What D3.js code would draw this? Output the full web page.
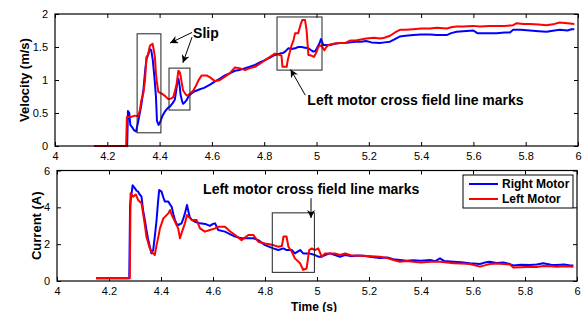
<!DOCTYPE html>
<html>
<head>
<meta charset="utf-8">
<script src="https://cdnjs.cloudflare.com/ajax/libs/d3/7.8.5/d3.min.js"></script>
<style>
  body { margin: 0; background: #fff; }
  svg { display: block; font-family: 'Liberation Sans', Arial, sans-serif; }
  .tick text { font-size: 11px; fill: #000; }
  .lbl { font-weight: bold; fill: #000; }
</style>
</head>
<body>
<div id="chart"></div>
<script>
// [time (s), velocity (m/s)]
const velRight = [[4.15,0],[4.276,0],[4.279,0.53],[4.284,0.5],[4.288,0.32],[4.296,0.28],[4.302,0.24],[4.31,0.22],[4.316,0.33],[4.322,0.45],[4.33,0.62],[4.338,0.85],[4.345,1.15],[4.35,1.32],[4.356,1.38],[4.362,1.47],[4.368,1.45],[4.374,1.3],[4.38,1.05],[4.386,0.75],[4.39,0.38],[4.396,0.32],[4.402,0.36],[4.41,0.45],[4.42,0.52],[4.43,0.57],[4.44,0.6],[4.45,0.65],[4.458,0.7],[4.463,0.82],[4.468,0.98],[4.472,1.02],[4.477,0.9],[4.48,0.78],[4.486,0.68],[4.49,0.64],[4.496,0.66],[4.504,0.7],[4.512,0.76],[4.523,0.8],[4.535,0.83],[4.554,0.86],[4.57,0.88],[4.593,0.93],[4.612,0.98],[4.631,1.02],[4.65,1.07],[4.668,1.1],[4.688,1.14],[4.705,1.15],[4.727,1.18],[4.745,1.2],[4.765,1.23],[4.785,1.27],[4.803,1.3],[4.822,1.34],[4.841,1.38],[4.86,1.4],[4.872,1.41],[4.88,1.43],[4.892,1.48],[4.905,1.47],[4.918,1.48],[4.93,1.5],[4.943,1.5],[4.956,1.49],[4.969,1.48],[4.98,1.45],[4.988,1.43],[4.996,1.44],[5.004,1.5],[5.012,1.56],[5.017,1.62],[5.022,1.57],[5.026,1.53],[5.04,1.53],[5.052,1.53],[5.07,1.55],[5.09,1.56],[5.109,1.56],[5.13,1.57],[5.15,1.58],[5.17,1.58],[5.19,1.59],[5.21,1.57],[5.243,1.56],[5.26,1.57],[5.281,1.58],[5.3,1.62],[5.319,1.66],[5.34,1.67],[5.37,1.68],[5.4,1.69],[5.434,1.69],[5.46,1.68],[5.498,1.68],[5.515,1.71],[5.536,1.73],[5.56,1.74],[5.6,1.75],[5.615,1.71],[5.625,1.71],[5.66,1.71],[5.689,1.71],[5.72,1.72],[5.74,1.72],[5.752,1.76],[5.78,1.76],[5.816,1.75],[5.85,1.74],[5.88,1.73],[5.91,1.75],[5.93,1.76],[5.96,1.75],[5.975,1.77],[5.986,1.77]];
const velLeft = [[4.15,0],[4.272,0],[4.275,0.44],[4.29,0.44],[4.305,0.46],[4.318,0.45],[4.325,0.55],[4.33,0.69],[4.338,0.8],[4.344,0.99],[4.35,1.35],[4.356,1.38],[4.363,1.52],[4.373,1.55],[4.378,1.45],[4.382,1.35],[4.386,1.1],[4.389,0.99],[4.395,0.82],[4.41,0.79],[4.42,0.76],[4.433,0.71],[4.445,0.72],[4.452,0.74],[4.458,0.82],[4.465,0.94],[4.472,1.14],[4.477,1.12],[4.48,1.07],[4.485,0.95],[4.49,0.84],[4.5,0.78],[4.506,0.76],[4.518,0.8],[4.529,0.84],[4.54,0.92],[4.548,0.99],[4.561,1.07],[4.58,1.07],[4.593,1.04],[4.612,0.98],[4.631,1.0],[4.65,1.05],[4.668,1.1],[4.688,1.19],[4.705,1.18],[4.727,1.15],[4.745,1.18],[4.765,1.2],[4.785,1.25],[4.803,1.3],[4.822,1.35],[4.841,1.4],[4.86,1.38],[4.866,1.37],[4.87,1.2],[4.886,1.2],[4.89,1.3],[4.895,1.38],[4.905,1.53],[4.912,1.6],[4.918,1.71],[4.93,1.71],[4.94,1.85],[4.946,1.91],[4.956,1.91],[4.962,1.76],[4.969,1.38],[4.98,1.37],[4.99,1.35],[5.0,1.42],[5.007,1.5],[5.02,1.53],[5.025,1.48],[5.03,1.45],[5.038,1.5],[5.045,1.53],[5.065,1.55],[5.083,1.56],[5.109,1.56],[5.13,1.6],[5.15,1.6],[5.19,1.63],[5.22,1.64],[5.243,1.63],[5.26,1.64],[5.281,1.67],[5.3,1.72],[5.319,1.76],[5.34,1.76],[5.37,1.77],[5.4,1.78],[5.434,1.78],[5.46,1.79],[5.498,1.78],[5.515,1.8],[5.536,1.81],[5.56,1.81],[5.6,1.82],[5.625,1.81],[5.66,1.82],[5.689,1.82],[5.72,1.82],[5.752,1.83],[5.766,1.86],[5.79,1.85],[5.816,1.85],[5.85,1.84],[5.88,1.83],[5.91,1.85],[5.93,1.87],[5.96,1.86],[5.986,1.85]];

// [time (s), current (A)]
const curRight = [[4.15,0.15],[4.278,0.15],[4.281,4.1],[4.286,4.67],[4.291,5.2],[4.3,5.03],[4.306,4.9],[4.312,4.85],[4.318,4.7],[4.325,4.58],[4.331,3.85],[4.338,3.3],[4.344,2.77],[4.35,2.3],[4.357,1.86],[4.363,1.5],[4.37,1.68],[4.376,2.4],[4.383,3.31],[4.388,4.2],[4.393,4.94],[4.402,4.85],[4.41,4.5],[4.415,4.31],[4.428,4.31],[4.435,4.15],[4.441,4.03],[4.448,3.6],[4.454,3.31],[4.46,3.1],[4.466,3.04],[4.479,3.13],[4.486,3.4],[4.492,3.67],[4.5,4.13],[4.505,3.8],[4.51,3.49],[4.52,3.3],[4.53,3.22],[4.55,3.13],[4.57,3.1],[4.588,2.99],[4.6,3.1],[4.608,3.13],[4.62,2.77],[4.646,2.68],[4.665,2.55],[4.685,2.41],[4.71,2.32],[4.736,2.32],[4.755,2.32],[4.774,2.22],[4.8,1.95],[4.832,1.77],[4.851,1.68],[4.871,1.77],[4.883,1.68],[4.903,1.68],[4.915,1.5],[4.935,1.68],[4.947,1.5],[4.96,1.5],[4.97,1.5],[4.992,1.41],[5.005,1.32],[5.018,1.32],[5.031,1.41],[5.05,1.5],[5.069,1.41],[5.088,1.32],[5.108,1.41],[5.13,1.35],[5.155,1.38],[5.178,1.37],[5.21,1.3],[5.242,1.25],[5.27,1.28],[5.294,1.18],[5.319,1.14],[5.345,1.1],[5.37,1.12],[5.4,1.1],[5.435,1.14],[5.455,1.08],[5.473,1.23],[5.49,1.08],[5.525,1.05],[5.555,1.02],[5.588,0.96],[5.627,0.92],[5.645,1.0],[5.665,1.05],[5.69,0.98],[5.717,1.0],[5.742,0.92],[5.755,0.84],[5.785,0.88],[5.819,0.87],[5.845,0.9],[5.87,0.96],[5.9,0.88],[5.922,0.87],[5.95,0.9],[5.97,0.85],[5.986,0.84]];
const curLeft = [[4.15,0.15],[4.28,0.15],[4.283,4.76],[4.293,4.58],[4.303,4.7],[4.312,4.4],[4.325,4.22],[4.331,3.67],[4.337,3.13],[4.344,2.41],[4.355,1.86],[4.363,1.59],[4.376,1.41],[4.383,1.95],[4.39,2.41],[4.396,2.86],[4.409,3.4],[4.428,3.67],[4.435,3.85],[4.441,3.6],[4.454,3.22],[4.466,2.86],[4.473,2.32],[4.479,2.6],[4.492,3.13],[4.5,3.58],[4.518,3.31],[4.537,3.31],[4.55,2.86],[4.569,2.68],[4.588,2.77],[4.608,2.86],[4.62,2.95],[4.646,2.95],[4.665,2.7],[4.685,2.5],[4.71,2.22],[4.736,2.5],[4.755,2.5],[4.774,2.13],[4.8,2.04],[4.832,1.95],[4.851,1.86],[4.865,1.9],[4.871,2.41],[4.883,2.41],[4.89,1.86],[4.903,1.59],[4.915,1.23],[4.935,0.96],[4.947,0.6],[4.96,0.68],[4.97,1.68],[4.98,1.77],[4.992,1.68],[5.005,1.77],[5.018,1.32],[5.031,1.5],[5.05,1.5],[5.069,1.5],[5.088,1.41],[5.108,1.5],[5.13,1.4],[5.155,1.37],[5.178,1.37],[5.21,1.35],[5.242,1.32],[5.27,1.25],[5.294,1.14],[5.319,1.05],[5.345,1.08],[5.37,1.05],[5.4,1.0],[5.435,1.05],[5.473,1.05],[5.5,1.0],[5.525,0.96],[5.555,0.95],[5.588,0.92],[5.627,0.78],[5.645,0.85],[5.665,0.92],[5.69,0.95],[5.717,0.92],[5.742,0.9],[5.755,0.73],[5.785,0.75],[5.819,0.78],[5.845,0.76],[5.87,0.82],[5.9,0.8],[5.922,0.78],[5.95,0.8],[5.986,0.78]];

const timeTicks = [4, 4.2, 4.4, 4.6, 4.8, 5, 5.2, 5.4, 5.6, 5.8, 6];
const velTicks = [0, 0.5, 1, 1.5, 2];
const curTicks = [0, 2, 4, 6];
const seriesNames = ['Right Motor', 'Left Motor'];

// annotation boxes in data units: [t0, t1, y0, y1]
const velBoxes = [[4.314, 4.405, 0.2, 1.7], [4.436, 4.516, 0.545, 1.18], [4.849, 5.021, 1.15, 1.955]];
const curBoxes = [[4.828, 4.99, 0.47, 3.7]];

const W = 586;
const H = 312;
const blue = '#0000ff';
const red = '#ff0000';

const svg = d3.select('#chart').append('svg')
    .attr('width', W)
    .attr('height', H);

svg.append('defs').append('marker')
    .attr('id', 'head')
    .attr('viewBox', '0 0 10 10')
    .attr('refX', 10)
    .attr('refY', 5)
    .attr('markerWidth', 8)
    .attr('markerHeight', 8)
    .attr('markerUnits', 'userSpaceOnUse')
    .attr('orient', 'auto')
  .append('path')
    .attr('d', 'M0,0L10,5L0,10L3,5Z')
    .attr('fill', '#000');

function panel(opts) {
  const x = d3.scaleLinear().domain([4, 6]).range([opts.left, opts.right]);
  const y = d3.scaleLinear().domain(opts.yDomain).range([opts.bottom, opts.top]);
  const g = svg.append('g');

  const tk = 4;
  g.append('g')
      .attr('transform', `translate(0,${opts.bottom})`)
      .call(d3.axisBottom(x).tickValues(timeTicks).tickFormat(d3.format('~g')).tickSizeInner(-tk).tickSizeOuter(0).tickPadding(6));
  g.append('g')
      .attr('transform', `translate(0,${opts.top})`)
      .call(d3.axisTop(x).tickValues(timeTicks).tickFormat('').tickSizeInner(-tk).tickSizeOuter(0));
  g.append('g')
      .attr('transform', `translate(${opts.left},0)`)
      .call(d3.axisLeft(y).tickValues(opts.yTicks).tickFormat(d3.format('~g')).tickSizeInner(-tk).tickSizeOuter(0).tickPadding(7));
  g.append('g')
      .attr('transform', `translate(${opts.right},0)`)
      .call(d3.axisRight(y).tickValues(opts.yTicks).tickFormat('').tickSizeInner(-tk).tickSizeOuter(0));
  g.selectAll('.domain').remove();
  g.selectAll('.tick line').attr('stroke', '#000');

  const line = d3.line().x(d => x(d[0])).y(d => y(d[1]));
  opts.series.forEach((s, i) => {
    g.append('path')
        .datum(s)
        .attr('d', line)
        .attr('fill', 'none')
        .attr('stroke', i ? red : blue)
        .attr('stroke-width', 2)
        .attr('stroke-linejoin', 'round');
  });

  g.selectAll('.abox')
      .data(opts.boxes)
    .enter().append('rect')
      .attr('x', d => x(d[0]))
      .attr('y', d => y(d[3]))
      .attr('width', d => x(d[1]) - x(d[0]))
      .attr('height', d => y(d[2]) - y(d[3]))
      .attr('fill', 'none')
      .attr('stroke', '#222')
      .attr('stroke-width', 1);

  g.append('rect')
      .attr('x', opts.left)
      .attr('y', opts.top)
      .attr('width', opts.right - opts.left)
      .attr('height', opts.bottom - opts.top)
      .attr('fill', 'none')
      .attr('stroke', '#000')
      .attr('stroke-width', 1.2);

  g.append('text')
      .attr('class', 'lbl')
      .attr('transform', `translate(${opts.yLabelX},${(opts.top + opts.bottom) / 2}) rotate(-90)`)
      .attr('text-anchor', 'middle')
      .style('font-size', '13px')
      .text(opts.yLabel);

  return { g, x, y };
}

function arrow(g, x1, y1, x2, y2) {
  g.append('line')
      .attr('x1', x1).attr('y1', y1)
      .attr('x2', x2).attr('y2', y2)
      .attr('stroke', '#000')
      .attr('stroke-width', 1)
      .attr('marker-end', 'url(#head)');
}

// Velocity panel
const velPanel = panel({
  left: 55, right: 578, top: 14, bottom: 146,
  yDomain: [0, 2], yTicks: velTicks, series: [velRight, velLeft],
  boxes: velBoxes, yLabel: 'Velocity (m/s)', yLabelX: 29
});
velPanel.g.append('text')
    .attr('class', 'lbl')
    .attr('x', velPanel.x(4.528))
    .attr('y', velPanel.y(1.64))
    .style('font-size', '14px')
    .text('Slip');
arrow(velPanel.g, velPanel.x(4.524), velPanel.y(1.72), velPanel.x(4.44), velPanel.y(1.56));
arrow(velPanel.g, velPanel.x(4.524), velPanel.y(1.65), velPanel.x(4.489), velPanel.y(1.26));
velPanel.g.append('text')
    .attr('class', 'lbl')
    .attr('x', velPanel.x(4.965))
    .attr('y', velPanel.y(0.62))
    .style('font-size', '14px')
    .text('Left motor cross field line marks');
arrow(velPanel.g, velPanel.x(4.957), velPanel.y(0.77), velPanel.x(4.901), velPanel.y(1.16));

// Current panel
const curPanel = panel({
  left: 57, right: 577, top: 170.5, bottom: 281,
  yDomain: [0, 6], yTicks: curTicks, series: [curRight, curLeft],
  boxes: curBoxes, yLabel: 'Current (A)', yLabelX: 41
});
curPanel.g.append('text')
    .attr('class', 'lbl')
    .attr('x', curPanel.x(4.562))
    .attr('y', curPanel.y(4.7))
    .style('font-size', '14px')
    .text('Left motor cross field line marks');
arrow(curPanel.g, curPanel.x(4.977), curPanel.y(4.5), curPanel.x(4.977), curPanel.y(3.42));

svg.append('text')
    .attr('class', 'lbl')
    .attr('x', 314)
    .attr('y', 310.5)
    .attr('text-anchor', 'middle')
    .style('font-size', '12px')
    .text('Time (s)');

// Legend
const leg = svg.append('g').attr('transform', 'translate(463,175)');
leg.append('rect')
    .attr('width', 110)
    .attr('height', 33)
    .attr('fill', '#fff')
    .attr('stroke', '#000')
    .attr('stroke-width', 1);
seriesNames.forEach((name, i) => {
  leg.append('line')
      .attr('x1', 6).attr('x2', 35)
      .attr('y1', 9 + i * 15).attr('y2', 9 + i * 15)
      .attr('stroke', i ? red : blue)
      .attr('stroke-width', 2);
  leg.append('text')
      .attr('class', 'lbl')
      .attr('x', 39)
      .attr('y', 13 + i * 15)
      .style('font-size', '12px')
      .text(name);
});
</script>
</body>
</html>
